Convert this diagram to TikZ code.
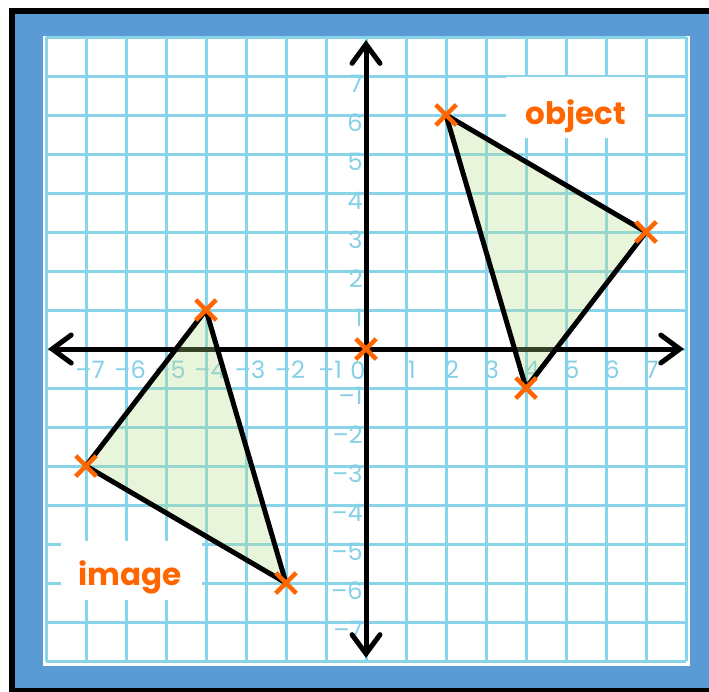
\documentclass[tikz,border=0pt]{standalone}
\usepackage{fontspec}
\setmainfont{Poppins}
\usetikzlibrary{arrows.meta,shapes.misc}
\definecolor{gridblue}{HTML}{89D4E9}
\definecolor{labblue}{HTML}{84D0E6}
\definecolor{frameblue}{HTML}{5B9BD5}
\definecolor{markorange}{HTML}{FF6600}
\definecolor{trifill}{HTML}{B4DE8A}
\tikzset{
  gridline/.style={gridblue, line width=3pt},
  axisline/.style={black, line width=5pt, line cap=round, arrows={Straight Barb[length=19pt,width=28pt,line cap=round]-Straight Barb[length=19pt,width=28pt,line cap=round]}},
  tri/.style={fill=trifill, fill opacity=0.3, draw=black, draw opacity=1, line width=5pt, line join=round},
  crossmk/.style={cross out, draw=markorange, line width=4.5pt, minimum size=16pt, inner sep=0pt},
  numlab/.style={text=labblue, font=\fontsize{24}{26}\selectfont, inner sep=0pt},
  namelab/.style={text=markorange, font=\fontsize{31}{34}\selectfont\bfseries, inner sep=0pt},
  labbox/.style={fill=white, draw=none}
}
\begin{document}
\begin{tikzpicture}[x=1pt,y=-1pt]
\useasboundingbox (0,0) rectangle (709,691);
\fill[white] (0,0) rectangle (709,691);
\fill[black] (9,8) rectangle (720,700);
\fill[frameblue] (15,13.5) rectangle (720,688);
\fill[white] (43,36) rectangle (690,666);
\begin{scope}[shift={(366,349)}, x=40pt, y=39pt]
  % grid
  \foreach \k in {-8,...,8} {
    \draw[gridline] (\k,-8) -- (\k,8);
    \draw[gridline] (-8,\k) -- (8,\k);
  }
  % label boxes
  \fill[labbox] (3.5,6.98) rectangle (6.98,5.42);
  \fill[labbox] (-7.62,-4.93) rectangle (-4.1,-6.44);
  % number labels
  \foreach \k in {1,...,7} {
    \node[numlab] (xp\k) at (\k+0.15,-0.53) {\k};
    \node[numlab] (xn\k) at (-\k+0.1,-0.53) {–\k};
    \node[numlab, anchor=east] (yp\k) at (-0.08,\k-0.2) {\k};
    \node[numlab, anchor=east] (yn\k) at (-0.08,-\k-0.2) {–\k};
  }
  \node[numlab] (zero) at (-0.2,-0.55) {0};
  % axes
  \coordinate (xl) at (-7.95,0);
  \coordinate (xr) at (7.95,0);
  \coordinate (yb) at (0,-7.92);
  \coordinate (yt) at (0,7.92);
  \draw[axisline] (xl) -- (xr);
  \draw[axisline] (yb) -- (yt);
  % triangles
  \coordinate (A) at (2,6);
  \coordinate (B) at (7,3);
  \coordinate (C) at (4,-1);
  \coordinate (A1) at (-4,1);
  \coordinate (B1) at (-7,-3);
  \coordinate (C1) at (-2,-6);
  \path[tri] (A) -- (B) -- (C) -- cycle;
  \path[tri] (A1) -- (B1) -- (C1) -- cycle;
  % marks
  \node[crossmk] (mA) at (A) {};
  \node[crossmk] (mB) at (B) {};
  \node[crossmk] (mC) at (C) {};
  \node[crossmk] (mA1) at (A1) {};
  \node[crossmk] (mB1) at (B1) {};
  \node[crossmk] (mC1) at (C1) {};
  \node[crossmk] (mO) at (0,0) {};
  % names
  \node[namelab] (obj) at (5.25,5.96) {object};
  \node[namelab] (img) at (-5.9,-5.85) {image};
\end{scope}
\end{tikzpicture}
\end{document}
